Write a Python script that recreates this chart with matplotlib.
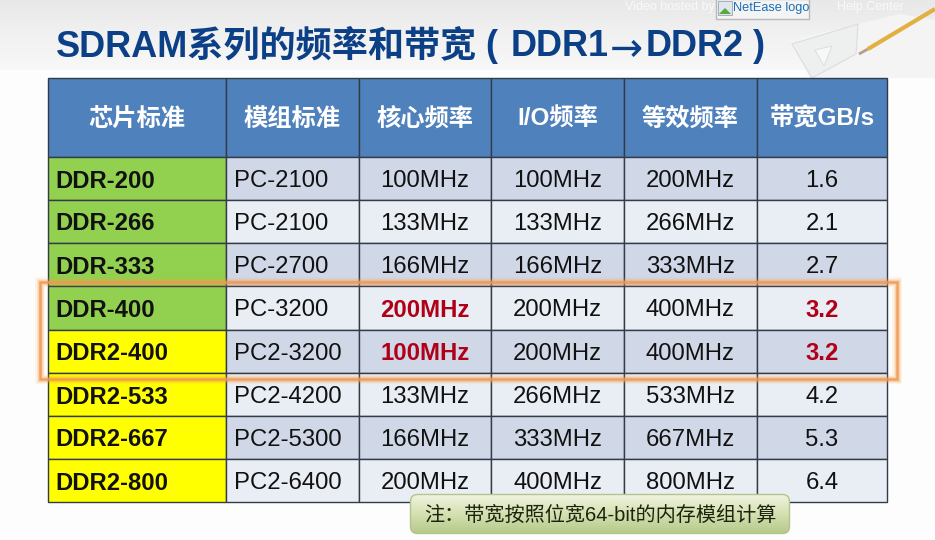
"""
SDRAM frequency / bandwidth slide, DDR1 -> DDR2.
"""

import numpy as np
import matplotlib
matplotlib.use('Agg')
import matplotlib.pyplot as plt
from matplotlib.patches import Rectangle, FancyBboxPatch, Polygon
from matplotlib.colors import LinearSegmentedColormap

# ── Data ────────────────────────────────────────────────────────────────────
TITLE_PARTS = ['SDRAM系列的频率和带宽', '(', 'DDR1', '→', 'DDR2', ')']
NOTE = '注：带宽按照位宽64-bit的内存模组计算'
headers = ['芯片标准', '模组标准', '核心频率', 'I/O频率', '等效频率', '带宽GB/s']
chips = ['DDR-200', 'DDR-266', 'DDR-333', 'DDR-400',
         'DDR2-400', 'DDR2-533', 'DDR2-667', 'DDR2-800']
modules = ['PC-2100', 'PC-2100', 'PC-2700', 'PC-3200',
           'PC2-3200', 'PC2-4200', 'PC2-5300', 'PC2-6400']
core_freq = ['100MHz', '133MHz', '166MHz', '200MHz',
             '100MHz', '133MHz', '166MHz', '200MHz']
io_freq = ['100MHz', '133MHz', '166MHz', '200MHz',
           '200MHz', '266MHz', '333MHz', '400MHz']
eff_freq = ['200MHz', '266MHz', '333MHz', '400MHz',
            '400MHz', '533MHz', '667MHz', '800MHz']
bandwidth = ['1.6', '2.1', '2.7', '3.2', '3.2', '4.2', '5.3', '6.4']

# ── Layout (pixels) ─────────────────────────────────────────────────────────
COL_X = [48, 226, 359, 491, 624, 757, 887]
ROW_Y = [78, 157, 200, 243, 286, 330, 373, 416, 459, 502]
TITLE_X = [56, 485, 511, 610, 646, 753]
FONTS = ['Liberation Sans', 'Noto Sans CJK SC']
PX = 0.72  # px -> pt at dpi 100

fig = plt.figure(figsize=(9.35, 5.4), dpi=100, facecolor='#fdfdfd')
ax = fig.add_axes([0, 0, 1, 1])
ax.set_xlim(0, 935)
ax.set_ylim(540, 0)
ax.axis('off')

# top banner fade
fade = LinearSegmentedColormap.from_list('fade', ['#e8e8e8', '#f1f1f1', '#f8f8f8'])
ax.imshow(np.linspace(0, 1, 80).reshape(-1, 1), cmap=fade, extent=(0, 935, 70, 0),
          aspect='auto', zorder=0)

# drawing paper, set square and pencil in the corner
ax.add_patch(Polygon([(790, 40), (900, 14), (935, 20), (935, 78), (810, 78)], closed=True,
                     fc='#f4f4f4', ec='none', zorder=1))
ax.add_patch(Polygon([(792, 44), (858, 24), (856, 54), (812, 78)], closed=True, fc='#eeefef',
                     ec='#dcdddd', lw=0.8, zorder=1))
ax.add_patch(Polygon([(815, 50), (832, 46), (824, 66)], closed=True, fc='#f8f8f8',
                     ec='#dcdddd', lw=0.7, zorder=1))
ax.plot([868, 935], [49, 9], color='#e3b040', lw=3, solid_capstyle='butt', zorder=2)
ax.plot([859, 868], [54, 49], color='#b8a080', lw=2, solid_capstyle='butt', zorder=2)

# video overlay texts
ax.text(625, 7, 'Video hosted by', color='#ffffff', alpha=0.75, fontsize=12.5 * PX,
        family=FONTS, va='center', zorder=3)
ax.text(837, 7, 'Help Center', color='#ffffff', alpha=0.75, fontsize=12.5 * PX,
        family=FONTS, va='center', zorder=3)
ax.add_patch(Rectangle((716, -1), 93, 20, fc='#f4f4f4', ec='#b8b8b8', lw=1, zorder=3))
ax.add_patch(Rectangle((718, 1), 14, 14, fc='#dfe6ee', ec='#9aa5b0', lw=0.6, zorder=4))
ax.add_patch(Polygon([(719, 14), (725, 8), (731, 14)], closed=True, fc='#5aa83c', zorder=5))
ax.text(733, 8, 'NetEase logo', color='#1a6fb5', fontsize=12.7 * PX, family=FONTS,
        va='center', zorder=4)

# title, placed in pieces because of the loose spacing around the arrow
for part, x in zip(TITLE_PARTS, TITLE_X):
    if part == '→':
        ax.text(x, 45, part, color='#0b3f86', fontsize=28.5, family='DejaVu Sans',
                va='center_baseline', ha='left', zorder=3)
    else:
        ax.text(x, 56.5, part, color='#0b3f86', fontsize=26, fontweight='bold', family=FONTS,
                va='baseline', ha='left', zorder=3)

# table
band_dark = '#d0d8e8'
band_light = '#e9edf4'
edge = '#333b48'
columns = [chips, modules, core_freq, io_freq, eff_freq, bandwidth]

for c, head in enumerate(headers):
    x0, x1 = COL_X[c], COL_X[c + 1]
    ax.add_patch(Rectangle((x0, ROW_Y[0]), x1 - x0, ROW_Y[1] - ROW_Y[0], fc='#4f81bd',
                           ec=edge, lw=1, zorder=3))
    ax.text((x0 + x1) / 2, (ROW_Y[0] + ROW_Y[1]) / 2 + 1.5, head, color='white',
            fontsize=17.5, fontweight='bold', family=FONTS, ha='center', va='center', zorder=4)

for r, chip in enumerate(chips):
    y0, y1 = ROW_Y[r + 1], ROW_Y[r + 2]
    ym = (y0 + y1) / 2 + 2.5
    for c, col in enumerate(columns):
        x0, x1 = COL_X[c], COL_X[c + 1]
        if c == 0:
            fc = '#92d050' if chip.startswith('DDR-') else '#ffff00'
        else:
            fc = band_dark if r % 2 == 0 else band_light
        ax.add_patch(Rectangle((x0, y0), x1 - x0, y1 - y0, fc=fc, ec=edge, lw=1, zorder=3))

        hot = c in (2, 5) and r in (3, 4)
        weight = 'bold' if c == 0 or hot else 'normal'
        color = '#b00018' if hot else '#111111'
        if c < 2:
            ax.text(x0 + 8 - (c == 0), ym, col[r], color=color, fontsize=17.2, fontweight=weight,
                    family=FONTS, ha='left', va='center', zorder=4)
        else:
            ax.text((x0 + x1) / 2, ym, col[r], color=color, fontsize=17.2, fontweight=weight,
                    family=FONTS, ha='center', va='center', zorder=4)

# orange highlight with glow
for lw, alpha in [(7, 0.1), (5, 0.18), (3.5, 0.25)]:
    ax.add_patch(Rectangle((40, 282), 857, 97, fc='none', ec='#f7a040', lw=lw, alpha=alpha, zorder=5))
ax.add_patch(Rectangle((40, 282), 857, 97, fc='none', ec='#f0975a', lw=1.8, alpha=0.85, zorder=6))

# note box with green gradient
note_box = FancyBboxPatch((413, 497), 374, 34, boxstyle='round,pad=2.5,rounding_size=7',
                          fc='none', ec='#b4c48c', lw=1, zorder=8)
ax.add_patch(note_box)
green = LinearSegmentedColormap.from_list('note', ['#f0f4e0', '#d5e0b0', '#b6c98a'])
im = ax.imshow(np.linspace(0, 1, 40).reshape(-1, 1), cmap=green, extent=(410, 790, 534, 494),
               aspect='auto', zorder=7)
im.set_clip_path(note_box)
ax.set_xlim(0, 935)
ax.set_ylim(540, 0)
ax.text(424, 515, NOTE, color='#1c2410', fontsize=14.5, family=FONTS, ha='left',
        va='center', zorder=9)

fig.savefig('out.png', dpi=100, facecolor=fig.get_facecolor())
